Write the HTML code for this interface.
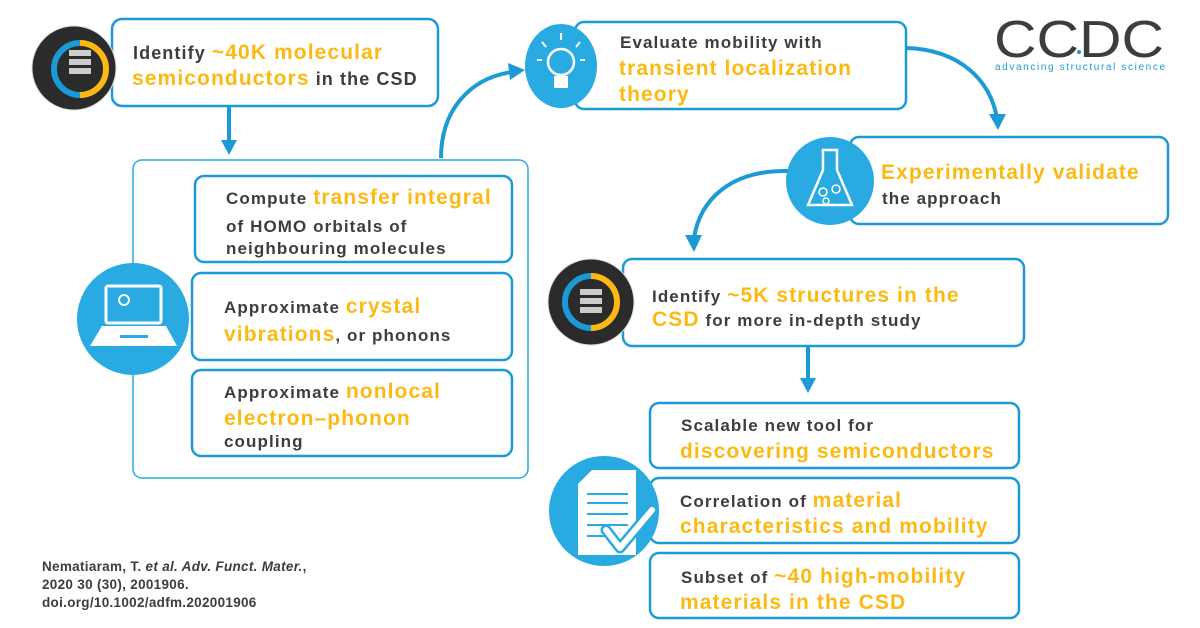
<!DOCTYPE html>
<html><head><meta charset="utf-8"><style>
html,body{margin:0;padding:0;background:#fff;}
svg{display:block;}
text{font-family:"Liberation Sans",Arial,sans-serif;font-weight:bold;fill:#3d3d3d;letter-spacing:1.1px;}
.o{fill:#fdb913;}
.b{fill:none;stroke:#1b9ad6;stroke-width:2.5;}
</style></head><body>
<svg width="1200" height="628" viewBox="0 0 1200 628" xmlns="http://www.w3.org/2000/svg">
<!-- Box 1 -->
<rect class="b" x="112" y="19" width="326" height="87" rx="10"/>
<circle cx="74" cy="68" r="42" fill="#2b2b2b" stroke="#ddd" stroke-width="1"/>
<path d="M80,43 A26,26 0 0 1 80,95" fill="none" stroke="#fdb913" stroke-width="6"/>
<path d="M80,43 A26,26 0 0 0 80,95" fill="none" stroke="#1b9ad6" stroke-width="6"/>
<rect x="69" y="50" width="22" height="6" fill="#ccc"/><rect x="69" y="59" width="22" height="6" fill="#ccc"/><rect x="69" y="68" width="22" height="6" fill="#ccc"/>
<text x="133" y="59" font-size="18">Identify <tspan class="o" font-size="21">~40K molecular</tspan></text>
<text x="132" y="85"><tspan class="o" font-size="21">semiconductors</tspan><tspan font-size="18"> in the CSD</tspan></text>
<line x1="229" y1="106" x2="229" y2="145" stroke="#1b9ad6" stroke-width="4"/>
<path d="M221,140 L237,140 L229,155 Z" fill="#1b9ad6"/>

<!-- Big box -->
<rect x="133" y="160" width="395" height="318" rx="9" fill="none" stroke="#29abe2" stroke-width="1.5"/>
<rect class="b" x="195" y="176" width="317" height="86" rx="9" fill="#fff"/>
<rect class="b" x="192" y="273" width="320" height="87" rx="9" fill="#fff"/>
<rect class="b" x="192" y="370" width="320" height="86" rx="9" fill="#fff"/>
<circle cx="133" cy="319" r="56" fill="#29abe2"/>
<rect x="106" y="286" width="55" height="37" rx="2" fill="none" stroke="#fff" stroke-width="3"/>
<circle cx="124" cy="300" r="5" fill="none" stroke="#fff" stroke-width="2"/>
<path d="M102,326 L166,326 L177,346 L90,346 Z" fill="#fff"/>
<rect x="120" y="335" width="28" height="3" fill="#29abe2"/>
<text x="226" y="204" font-size="17">Compute <tspan class="o" font-size="21">transfer integral</tspan></text>
<text x="226" y="232" font-size="17">of HOMO orbitals of</text>
<text x="226" y="254" font-size="17">neighbouring molecules</text>
<text x="224" y="313" font-size="17">Approximate <tspan class="o" font-size="21">crystal</tspan></text>
<text x="224" y="341"><tspan class="o" font-size="21">vibrations</tspan><tspan font-size="17">, or phonons</tspan></text>
<text x="224" y="398" font-size="17">Approximate <tspan class="o" font-size="21">nonlocal</tspan></text>
<text x="224" y="425" class="o" font-size="21">electron–phonon</text>
<text x="224" y="447" font-size="17">coupling</text>

<!-- curve to box 2 -->
<path d="M441,158 C441,110 470,78 512,72" fill="none" stroke="#1b9ad6" stroke-width="4"/>
<path d="M508,63 L525,70 L510,80 Z" fill="#1b9ad6"/>

<!-- Box 2 -->
<rect class="b" x="575" y="22" width="331" height="87" rx="9"/>
<ellipse cx="561" cy="66" rx="36" ry="42" fill="#29abe2"/>
<circle cx="561" cy="62" r="13" fill="none" stroke="#fff" stroke-width="2.5"/>
<rect x="554" y="76" width="14" height="12" fill="#fff"/>
<g stroke="#fff" stroke-width="2"><line x1="561" y1="33" x2="561" y2="40"/><line x1="542" y1="42" x2="546" y2="47"/><line x1="580" y1="42" x2="576" y2="47"/><line x1="537" y1="60" x2="542" y2="60"/><line x1="580" y1="60" x2="585" y2="60"/></g>
<text x="620" y="48" font-size="17">Evaluate mobility with</text>
<text x="619" y="75" class="o" font-size="21">transient localization</text>
<text x="619" y="101" class="o" font-size="21">theory</text>

<!-- CCDC logo -->
<text x="994" y="57" font-size="52" style="font-weight:normal;letter-spacing:0" fill="#3d3d3d" textLength="170" lengthAdjust="spacingAndGlyphs">CCDC</text>
<circle cx="1079" cy="52" r="2" fill="#1b9ad6"/>
<text x="995" y="70" font-size="10" style="font-weight:normal;fill:#1b9ad6;letter-spacing:0" textLength="170" lengthAdjust="spacing">advancing structural science</text>

<!-- curve to box 3 -->
<path d="M907,48 C960,50 990,80 997,118" fill="none" stroke="#1b9ad6" stroke-width="4"/>
<path d="M989,114 L1006,114 L998,130 Z" fill="#1b9ad6"/>

<!-- Box 3 -->
<rect class="b" x="850" y="137" width="318" height="87" rx="9"/>
<circle cx="830" cy="181" r="44" fill="#29abe2"/>
<path d="M823,150 L837,150 L837,170 L852,205 L808,205 L823,170 Z" fill="none" stroke="#fff" stroke-width="2.5"/>
<circle cx="823" cy="192" r="4" fill="none" stroke="#fff" stroke-width="1.5"/><circle cx="836" cy="189" r="4" fill="none" stroke="#fff" stroke-width="1.5"/><circle cx="826" cy="201" r="3" fill="none" stroke="#fff" stroke-width="1.5"/>
<text x="881" y="179" class="o" font-size="21">Experimentally validate</text>
<text x="882" y="204" font-size="17">the approach</text>

<!-- curve to box 4 -->
<path d="M788,171 C730,170 700,200 694,238" fill="none" stroke="#1b9ad6" stroke-width="4"/>
<path d="M685,235 L702,235 L694,252 Z" fill="#1b9ad6"/>

<!-- Box 4 -->
<rect class="b" x="623" y="259" width="401" height="87" rx="9"/>
<circle cx="591" cy="302" r="43" fill="#2b2b2b" stroke="#ddd" stroke-width="1"/>
<path d="M591,276 A26,26 0 0 1 591,328" fill="none" stroke="#fdb913" stroke-width="6"/>
<path d="M591,276 A26,26 0 0 0 591,328" fill="none" stroke="#1b9ad6" stroke-width="6"/>
<rect x="580" y="289" width="22" height="6" fill="#ccc"/><rect x="580" y="298" width="22" height="6" fill="#ccc"/><rect x="580" y="307" width="22" height="6" fill="#ccc"/>
<text x="652" y="302" font-size="17">Identify <tspan class="o" font-size="21">~5K structures in the</tspan></text>
<text x="652" y="326"><tspan class="o" font-size="21">CSD</tspan><tspan font-size="17"> for more in-depth study</tspan></text>
<line x1="808" y1="346" x2="808" y2="382" stroke="#1b9ad6" stroke-width="4"/>
<path d="M800,378 L816,378 L808,393 Z" fill="#1b9ad6"/>

<!-- result boxes -->
<rect class="b" x="650" y="403" width="369" height="65" rx="9"/>
<rect class="b" x="650" y="478" width="369" height="65" rx="9"/>
<rect class="b" x="650" y="553" width="369" height="65" rx="9"/>
<circle cx="604" cy="511" r="55" fill="#29abe2"/>
<path d="M592,470 L636,470 L636,555 L578,555 L578,484 Z" fill="#fff"/>
<g stroke="#29abe2" stroke-width="2"><line x1="587" y1="494" x2="628" y2="494"/><line x1="587" y1="503" x2="628" y2="503"/><line x1="587" y1="514" x2="628" y2="514"/><line x1="587" y1="525" x2="628" y2="525"/><line x1="587" y1="536" x2="610" y2="536"/></g>
<path d="M606,530 L620,548 L652,510" fill="none" stroke="#29abe2" stroke-width="11" stroke-linecap="round" stroke-linejoin="round"/>
<path d="M606,530 L620,548 L652,510" fill="none" stroke="#fff" stroke-width="6" stroke-linecap="round" stroke-linejoin="round"/>
<text x="681" y="431" font-size="17">Scalable new tool for</text>
<text x="680" y="458" class="o" font-size="21">discovering semiconductors</text>
<text x="680" y="507" font-size="17">Correlation of <tspan class="o" font-size="21">material</tspan></text>
<text x="680" y="533" class="o" font-size="21">characteristics and mobility</text>
<text x="681" y="583" font-size="17">Subset of <tspan class="o" font-size="21">~40 high-mobility</tspan></text>
<text x="680" y="609" class="o" font-size="21">materials in the CSD</text>

<!-- citation -->
<text x="42" y="571" font-size="13.5" style="letter-spacing:0.3px">Nematiaram, T. <tspan font-style="italic">et al. Adv. Funct. Mater.</tspan>,</text>
<text x="42" y="589" font-size="13.5" style="letter-spacing:0.3px">2020 30 (30), 2001906.</text>
<text x="42" y="607" font-size="13.5" style="letter-spacing:0.3px">doi.org/10.1002/adfm.202001906</text>
</svg>
</body></html>
